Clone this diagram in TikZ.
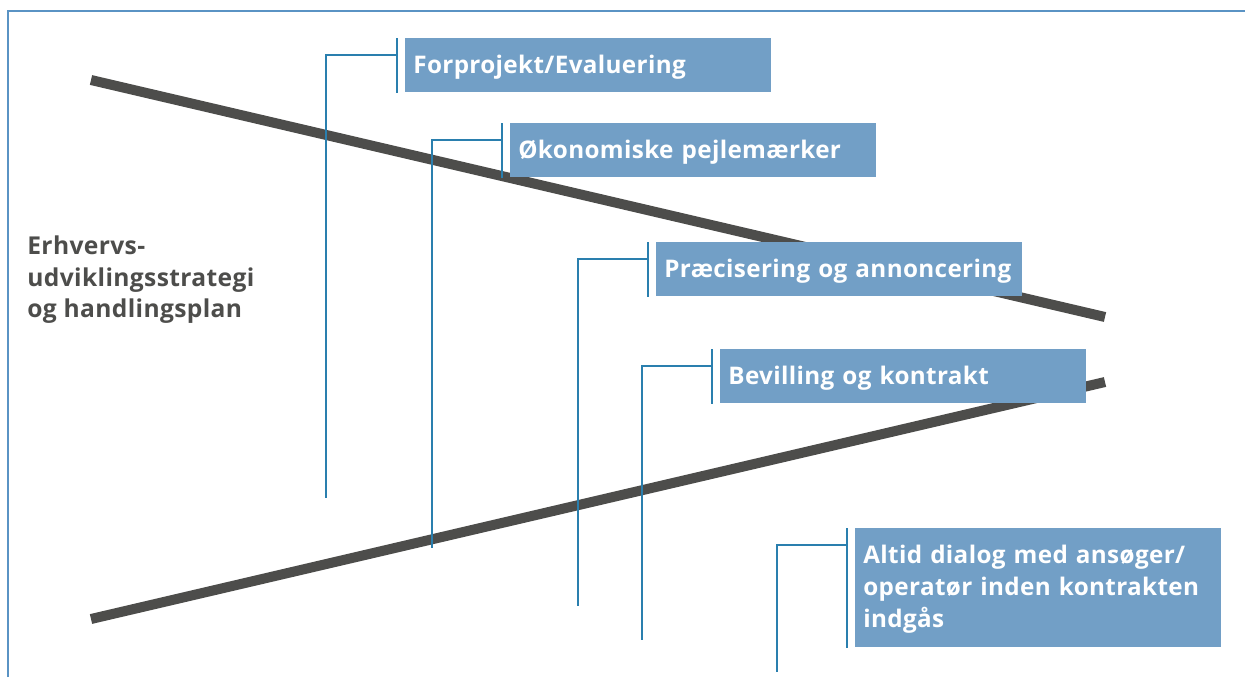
\documentclass[tikz,border=0pt]{standalone}
\usepackage{fontspec}
\setmainfont{Open Sans}[LetterSpace=1.5]

\definecolor{boksblaa}{HTML}{729FC6}
\definecolor{stregblaa}{HTML}{2A7FAE}
\definecolor{rammeblaa}{HTML}{5A93C4}
\definecolor{graa}{HTML}{4D4D4B}

\begin{document}
\begin{tikzpicture}[x=0.02cm, y=-0.02cm,
    fase/.style = {fill=boksblaa, text=white, font=\bfseries\fontsize{13.8}{18.2}\selectfont,
                   anchor=north west, text width=7cm, inner xsep=0.16cm, inner ysep=0pt,
                   text height=0.38cm, text depth=0.06cm, minimum height=1.08cm, align=left},
    bjaelke/.style = {draw=graa, line width=0.2cm},
    streg/.style = {draw=stregblaa, line width=0.85pt}]
    \useasboundingbox (0,0) rectangle (1245,677);
    % ramme
    \draw[rammeblaa, line width=1.1pt] (8,677) -- (8,11) -- (1245,11);
    % tragt
    \coordinate (a1) at (91,80);
    \coordinate (a2) at (1105,317);
    \coordinate (b1) at (91,619);
    \coordinate (b2) at (1105,382);
    \draw[bjaelke] (a1) -- (a2);
    \draw[bjaelke] (b1) -- (b2);
    \node[anchor=north west, inner sep=0pt, align=left, text=graa,
          font=\bfseries\fontsize{14}{18.2}\selectfont] (strategi) at (27,235)
          {Erhvervs-\\udviklingsstrategi\\og handlingsplan};
    % faser
    \node[fase] (forprojekt) at (405,38) {Forprojekt/Evaluering};
    \node[fase] (oekonomi) at (510,123) {Økonomiske pejlemærker};
    \node[fase] (praecisering) at (656,242) {Præcisering og annoncering};
    \node[fase] (bevilling) at (720,349) {Bevilling og kontrakt};
    \node[fase, minimum height=2.38cm, text depth=1.36cm] (dialog) at (855,528)
          {Altid dialog med ansøger/\\operatør inden kontrakten\\indgås};
    \coordinate (fod1) at (326,498);
    \coordinate (fod2) at (432,548);
    \coordinate (fod3) at (578,606);
    \coordinate (fod4) at (642,640);
    \coordinate (fod5) at (777,672);
    \foreach \n/\f in {forprojekt/fod1, oekonomi/fod2, praecisering/fod3, bevilling/fod4, dialog/fod5} {
        \draw[streg] ([xshift=-0.16cm]\n.north west) -- ([xshift=-0.16cm]\n.south west);
        \draw[streg] ([xshift=-0.16cm, yshift=-0.34cm]\n.north west) -| (\f);
    }
\end{tikzpicture}
\end{document}
